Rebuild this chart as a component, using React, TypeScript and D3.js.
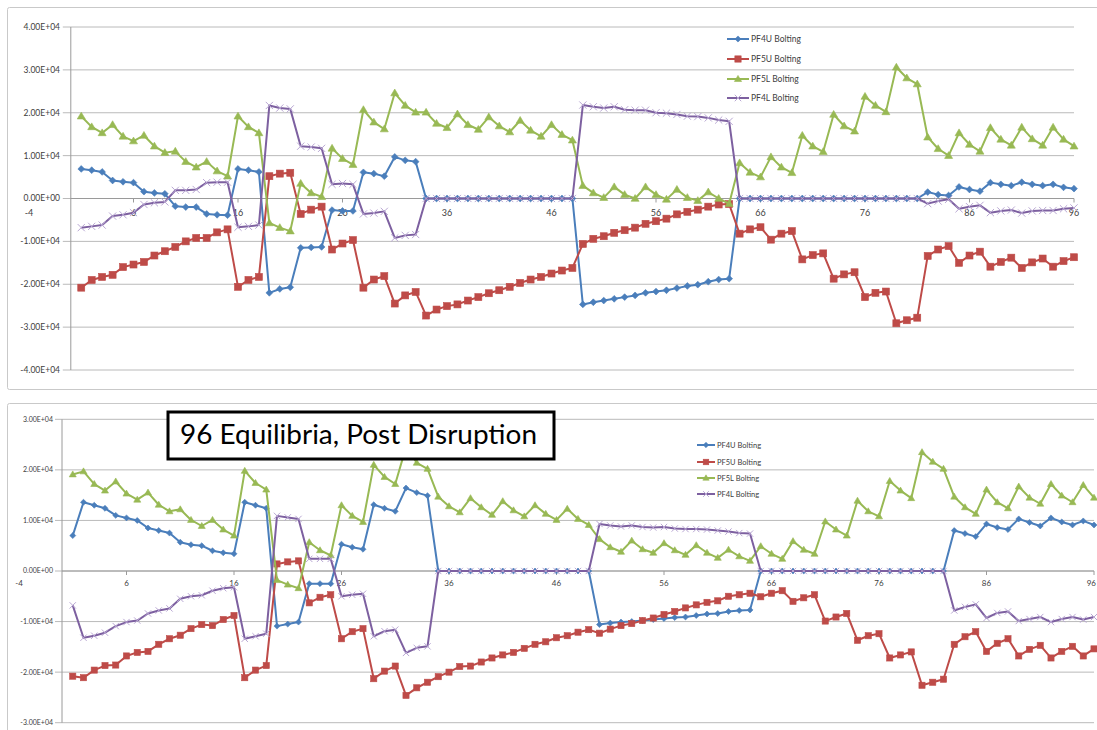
import React from "react";
import * as d3 from "d3";

// ---------- DATA ----------
const SERIES_NAMES = ["PF4U Bolting", "PF5U Bolting", "PF5L Bolting", "PF4L Bolting"];
const X_TICKS = [-4, 6, 16, 26, 36, 46, 56, 66, 76, 86, 96];
const TOP_Y_TICKS = [-40000, -30000, -20000, -10000, 0, 10000, 20000, 30000, 40000];
const BOTTOM_Y_TICKS = [-30000, -20000, -10000, 0, 10000, 20000, 30000];
const TITLE = "96 Equilibria, Post Disruption";
const UNIT = 1e4; // values below are in units of 1.00E+04

// equilibrium index 1..96
const EQUILIBRIA = Array.from({ length: 96 }, (_, i) => i + 1);

const TOP_PF4U = [
  0.69, 0.66, 0.62, 0.42, 0.39, 0.37, 0.16, 0.13, 0.11, -0.18, -0.2, -0.2, -0.36, -0.38, -0.39,
  0.69, 0.66, 0.62, -2.2, -2.11, -2.07, -1.15, -1.14, -1.13, -0.27, -0.29, -0.29, 0.61, 0.58, 0.52,
  0.97, 0.89, 0.86,
  0, 0, 0, 0, 0, 0, 0, 0, 0, 0, 0, 0, 0, 0, 0,
  -2.47, -2.42, -2.38, -2.34, -2.3, -2.26, -2.2, -2.17, -2.14, -2.09, -2.04, -2.01, -1.94, -1.89, -1.87,
  0, 0, 0, 0, 0, 0, 0, 0, 0, 0, 0, 0, 0, 0, 0, 0, 0, 0,
  0.15, 0.09, 0.07, 0.27, 0.21, 0.17, 0.37, 0.33, 0.3, 0.38, 0.33, 0.3, 0.33, 0.26, 0.23,
];
const TOP_PF5U = [
  -2.08, -1.9, -1.83, -1.78, -1.6, -1.54, -1.48, -1.33, -1.23, -1.13, -1.0, -0.92, -0.92, -0.79, -0.72,
  -2.06, -1.9, -1.83, 0.52, 0.58, 0.6, -0.36, -0.26, -0.19, -1.19, -1.05, -0.97, -2.08, -1.89, -1.81,
  -2.45, -2.26, -2.18,
  -2.73, -2.59, -2.51, -2.47, -2.38, -2.3, -2.21, -2.14, -2.06, -1.97, -1.89, -1.83, -1.75, -1.68, -1.62,
  -1.06, -0.94, -0.88, -0.8, -0.74, -0.68, -0.59, -0.53, -0.47, -0.37, -0.31, -0.26, -0.19, -0.14, -0.13,
  -0.82, -0.72, -0.67, -0.96, -0.82, -0.76, -1.42, -1.32, -1.28, -1.87, -1.77, -1.72, -2.3, -2.2, -2.17,
  -2.91, -2.84, -2.78, -1.34, -1.19, -1.11, -1.5, -1.33, -1.24, -1.59, -1.48, -1.38, -1.62, -1.49, -1.4,
  -1.59, -1.46, -1.37,
];
const TOP_PF5L = [
  1.92, 1.67, 1.53, 1.72, 1.45, 1.34, 1.47, 1.22, 1.07, 1.1, 0.86, 0.73, 0.86, 0.64, 0.52,
  1.92, 1.67, 1.53, -0.57, -0.68, -0.76, 0.35, 0.13, 0.04, 1.17, 0.93, 0.79, 2.07, 1.78, 1.62,
  2.46, 2.17, 2.01,
  2.01, 1.75, 1.65, 1.97, 1.72, 1.61, 1.9, 1.69, 1.55, 1.82, 1.59, 1.45, 1.72, 1.49, 1.36,
  0.3, 0.13, 0.02, 0.27, 0.09, 0.0, 0.27, 0.09, -0.02, 0.21, 0.02, -0.05, 0.15, 0.0, -0.12,
  0.83, 0.61, 0.5, 0.97, 0.73, 0.6, 1.47, 1.22, 1.09, 1.96, 1.69, 1.57, 2.38, 2.17, 2.02,
  3.06, 2.81, 2.67, 1.43, 1.16, 1.0, 1.53, 1.26, 1.1, 1.65, 1.38, 1.24, 1.66, 1.39, 1.24,
  1.66, 1.38, 1.22,
];
const TOP_PF4L = [
  -0.68, -0.65, -0.62, -0.41, -0.38, -0.33, -0.14, -0.1, -0.08, 0.19, 0.19, 0.21, 0.37, 0.38, 0.38,
  -0.67, -0.65, -0.62, 2.17, 2.11, 2.09, 1.22, 1.2, 1.17, 0.33, 0.35, 0.33, -0.36, -0.34, -0.3,
  -0.92, -0.86, -0.84,
  0, 0, 0, 0, 0, 0, 0, 0, 0, 0, 0, 0, 0, 0, 0,
  2.18, 2.14, 2.11, 2.14, 2.07, 2.06, 2.06, 2.0, 1.99, 1.96, 1.92, 1.91, 1.88, 1.83, 1.8,
  0, 0, 0, 0, 0, 0, 0, 0, 0, 0, 0, 0, 0, 0, 0, 0, 0, 0,
  -0.12, -0.06, -0.02, -0.24, -0.19, -0.16, -0.33, -0.29, -0.27, -0.34, -0.29, -0.28, -0.28, -0.24, -0.22,
];

const BOTTOM_PF4U = [
  0.7,
  1.36, 1.3, 1.24, 1.1, 1.05, 1.0, 0.85, 0.8, 0.75, 0.57, 0.52, 0.5, 0.4, 0.36, 0.34,
  1.36, 1.3, 1.24, -1.09, -1.05, -1.01, -0.25, -0.25, -0.25, 0.53, 0.47, 0.43, 1.31, 1.24, 1.18,
  1.64, 1.55, 1.49,
  0, 0, 0, 0, 0, 0, 0, 0, 0, 0, 0, 0, 0, 0, 0,
  -1.06, -1.03, -1.01, -1.0, -0.98, -0.96, -0.94, -0.92, -0.91, -0.88, -0.85, -0.84, -0.8, -0.78, -0.77,
  0, 0, 0, 0, 0, 0, 0, 0, 0, 0, 0, 0, 0, 0, 0, 0, 0, 0,
  0.8, 0.74, 0.68, 0.93, 0.86, 0.82, 1.03, 0.96, 0.89, 1.05, 0.97, 0.91, 0.99, 0.91,
];
const BOTTOM_PF5U = [
  -2.08,
  -2.11, -1.96, -1.87, -1.86, -1.68, -1.61, -1.59, -1.45, -1.34, -1.27, -1.14, -1.06, -1.08, -0.96, -0.88,
  -2.11, -1.96, -1.87, 0.14, 0.18, 0.2, -0.63, -0.52, -0.47, -1.34, -1.2, -1.14, -2.13, -1.98, -1.88,
  -2.46, -2.31, -2.2,
  -2.09, -2.0, -1.89, -1.88, -1.8, -1.72, -1.66, -1.61, -1.53, -1.45, -1.4, -1.32, -1.28, -1.21, -1.16,
  -1.23, -1.15, -1.08, -1.04, -0.98, -0.93, -0.86, -0.8, -0.73, -0.67, -0.62, -0.59, -0.5, -0.47, -0.44,
  -0.51, -0.44, -0.39, -0.6, -0.53, -0.47, -0.99, -0.91, -0.84, -1.37, -1.28, -1.24, -1.72, -1.66, -1.6,
  -2.26, -2.2, -2.14, -1.45, -1.3, -1.2, -1.59, -1.43, -1.34, -1.68, -1.55, -1.47, -1.72, -1.59, -1.49,
  -1.68, -1.54,
];
const BOTTOM_PF5L = [
  1.91,
  1.97, 1.72, 1.59, 1.77, 1.53, 1.41, 1.55, 1.31, 1.18, 1.22, 1.01, 0.89, 1.01, 0.82, 0.7,
  1.98, 1.74, 1.61, -0.18, -0.27, -0.34, 0.57, 0.41, 0.31, 1.3, 1.09, 0.97, 2.1, 1.86, 1.72,
  2.45, 2.14, 2.02,
  1.47, 1.28, 1.16, 1.44, 1.26, 1.11, 1.38, 1.2, 1.08, 1.3, 1.13, 1.01, 1.23, 1.03, 0.91,
  0.63, 0.47, 0.38, 0.6, 0.43, 0.36, 0.55, 0.41, 0.32, 0.51, 0.36, 0.26, 0.42, 0.29, 0.2,
  0.49, 0.34, 0.24, 0.59, 0.42, 0.34, 0.98, 0.82, 0.7, 1.39, 1.18, 1.08, 1.78, 1.59, 1.44,
  2.35, 2.16, 2.02, 1.47, 1.26, 1.13, 1.61, 1.36, 1.24, 1.67, 1.45, 1.33, 1.72, 1.49, 1.36,
  1.7, 1.45,
];
const BOTTOM_PF4L = [
  -0.68,
  -1.32, -1.28, -1.22, -1.09, -1.01, -0.98, -0.84, -0.78, -0.74, -0.55, -0.5, -0.48, -0.39, -0.34, -0.32,
  -1.34, -1.29, -1.24, 1.09, 1.06, 1.03, 0.24, 0.24, 0.24, -0.5, -0.47, -0.45, -1.29, -1.19, -1.16,
  -1.62, -1.52, -1.49,
  0, 0, 0, 0, 0, 0, 0, 0, 0, 0, 0, 0, 0, 0, 0,
  0.93, 0.9, 0.88, 0.9, 0.87, 0.86, 0.87, 0.84, 0.83, 0.83, 0.82, 0.8, 0.78, 0.75, 0.74,
  0, 0, 0, 0, 0, 0, 0, 0, 0, 0, 0, 0, 0, 0, 0, 0, 0, 0,
  -0.78, -0.71, -0.66, -0.93, -0.83, -0.8, -0.99, -0.95, -0.91, -1.01, -0.95, -0.91, -0.96, -0.91,
];

// ---------- STYLE ----------
const COLORS = ["#4A7EBB", "#BE4B48", "#98B954", "#7D60A0"];
const X_MARK_COLOR = "#B9A7D3";
const MARKERS = ["diamond", "square", "triangle", "x"];
const FONT = "Lato, 'Open Sans', 'DejaVu Sans', sans-serif";
const SVG_W = 1097;

function fmtSci(v: number): string {
  if (v === 0) return "0.00E+00";
  const exp = Math.floor(Math.log10(Math.abs(v)));
  const mant = v / Math.pow(10, exp);
  return `${mant.toFixed(2)}E${exp >= 0 ? "+" : "-"}${String(Math.abs(exp)).padStart(2, "0")}`;
}

function Marker({ kind, x, y, s, color }: { kind: string; x: number; y: number; s: number; color: string }) {
  if (kind === "diamond") {
    const r = 3.4 * s;
    return <path d={`M${x},${y - r}L${x + r},${y}L${x},${y + r}L${x - r},${y}Z`} fill={color} stroke={color} strokeWidth={0.6} />;
  }
  if (kind === "square") {
    const h = 3.5 * s;
    return <rect x={x - h} y={y - h} width={2 * h} height={2 * h} fill={color} stroke={color} strokeWidth={0.6} />;
  }
  if (kind === "triangle") {
    const r = 4 * s;
    return (
      <path d={`M${x},${y - r}L${x + r},${y + r * 0.7}L${x - r},${y + r * 0.7}Z`} fill={color} stroke={color} strokeWidth={0.6} />
    );
  }
  const r = 3.6 * s;
  return (
    <g stroke={X_MARK_COLOR} strokeWidth={1}>
      <line x1={x - r} y1={y - r} x2={x + r} y2={y + r} />
      <line x1={x - r} y1={y + r} x2={x + r} y2={y - r} />
    </g>
  );
}

type PanelProps = {
  frame: { x: number; y: number; w: number; h: number };
  xRange: [number, number];
  yDomain: [number, number];
  yRange: [number, number];
  yTicks: number[];
  series: number[][];
  yLabelRight: number;
  yFont: number;
  xFont: number;
  xLabelDy: number;
  tickLen: number;
  legend: { x: number; ys: number[]; lineLen: number; font: number };
  markerScale: number;
  lineWidth: number;
  children?: React.ReactNode;
};

function Panel(p: PanelProps) {
  const xs = d3.scaleLinear().domain([-4, 96]).range(p.xRange);
  const ys = d3.scaleLinear().domain(p.yDomain).range(p.yRange);
  const x0 = xs(0);
  const y0 = ys(0);
  const xRight = xs(96);
  const line = d3
    .line<[number, number]>()
    .x((d) => xs(d[0]))
    .y((d) => ys(d[1]));
  return (
    <g>
      <rect x={p.frame.x} y={p.frame.y} width={p.frame.w} height={p.frame.h} fill="#fff" stroke="#C9C9C9" strokeWidth={1} rx={2} />
      {/* gridlines + y ticks */}
      {p.yTicks.map((t) => (
        <g key={t}>
          <line x1={x0 - p.tickLen} x2={xRight} y1={ys(t)} y2={ys(t)} stroke="#BABABA" strokeWidth={1} />
          <text x={p.yLabelRight} y={ys(t)} dy="0.35em" textAnchor="end" fontSize={p.yFont} fontFamily={FONT} fill="#404040">
            {fmtSci(t)}
          </text>
        </g>
      ))}
      {/* y axis */}
      <line x1={x0} x2={x0} y1={ys(p.yDomain[1])} y2={ys(p.yDomain[0])} stroke="#9A9A9A" strokeWidth={1} />
      {/* x axis */}
      <line x1={x0} x2={xRight} y1={y0} y2={y0} stroke="#9A9A9A" strokeWidth={1} />
      {X_TICKS.map((t) => {
        const tx = xs(t);
        const nearEdge = tx + 8 > SVG_W;
        return (
          <g key={t}>
            {t > 0 && <line x1={tx} x2={tx} y1={y0} y2={y0 + 4} stroke="#9A9A9A" strokeWidth={1} />}
            <text
              x={nearEdge ? SVG_W - 1 : tx}
              y={y0 + p.xLabelDy}
              textAnchor={nearEdge ? "end" : "middle"}
              fontSize={p.xFont}
              fontFamily={FONT}
              fill="#404040"
            >
              {t}
            </text>
          </g>
        );
      })}
      {/* series */}
      {p.series.map((vals, si) => {
        const pts: [number, number][] = vals.map((v, i) => [EQUILIBRIA[i], v * UNIT]);
        return (
          <g key={si}>
            <path d={line(pts) || ""} fill="none" stroke={COLORS[si]} strokeWidth={p.lineWidth} strokeLinejoin="round" />
            {pts.map((d, i) => (
              <Marker key={i} kind={MARKERS[si]} x={xs(d[0])} y={ys(d[1])} s={p.markerScale} color={COLORS[si]} />
            ))}
          </g>
        );
      })}
      {/* legend */}
      {SERIES_NAMES.map((name, si) => {
        const ly = p.legend.ys[si];
        const lx = p.legend.x;
        return (
          <g key={name}>
            <line x1={lx} x2={lx + p.legend.lineLen} y1={ly} y2={ly} stroke={COLORS[si]} strokeWidth={p.lineWidth} />
            <Marker kind={MARKERS[si]} x={lx + p.legend.lineLen / 2} y={ly} s={p.markerScale * 0.9} color={COLORS[si]} />
            <text x={lx + p.legend.lineLen + 2} y={ly} dy="0.35em" fontSize={p.legend.font} fontFamily={FONT} fill="#404040">
              {name}
            </text>
          </g>
        );
      })}
      {p.children}
    </g>
  );
}

export default function App() {
  return (
    <div style={{ position: "absolute", left: 0, top: 0 }}>
      <svg width={SVG_W} height={730} style={{ display: "block", background: "#fff" }}>
        <Panel
          frame={{ x: 7.5, y: 7.5, w: 1110, h: 382 }}
          xRange={[29, 1074]}
          yDomain={[-40000, 40000]}
          yRange={[370, 27]}
          yTicks={TOP_Y_TICKS}
          series={[TOP_PF4U, TOP_PF5U, TOP_PF5L, TOP_PF4L]}
          yLabelRight={60}
          yFont={8.5}
          xFont={9}
          xLabelDy={17}
          tickLen={8}
          legend={{ x: 727, ys: [39, 59, 79, 98], lineLen: 22, font: 8.5 }}
          markerScale={1}
          lineWidth={2}
        />
        <Panel
          frame={{ x: 7.5, y: 403.5, w: 1110, h: 340 }}
          xRange={[19, 1094]}
          yDomain={[-30000, 30000]}
          yRange={[722.7, 419.3]}
          yTicks={BOTTOM_Y_TICKS}
          series={[BOTTOM_PF4U, BOTTOM_PF5U, BOTTOM_PF5L, BOTTOM_PF4L]}
          yLabelRight={53}
          yFont={7}
          xFont={8}
          xLabelDy={15}
          tickLen={7}
          legend={{ x: 697, ys: [445, 462, 478, 494], lineLen: 18, font: 7.5 }}
          markerScale={0.88}
          lineWidth={2}
        >
          <rect x={168} y={412} width={386} height={47} fill="#fff" stroke="#000" strokeWidth={3} />
          <text x={180} y={444} fontSize={26} fontFamily={FONT} fill="#000" textLength={357} lengthAdjust="spacingAndGlyphs">
            {TITLE}
          </text>
        </Panel>
      </svg>
    </div>
  );
}
